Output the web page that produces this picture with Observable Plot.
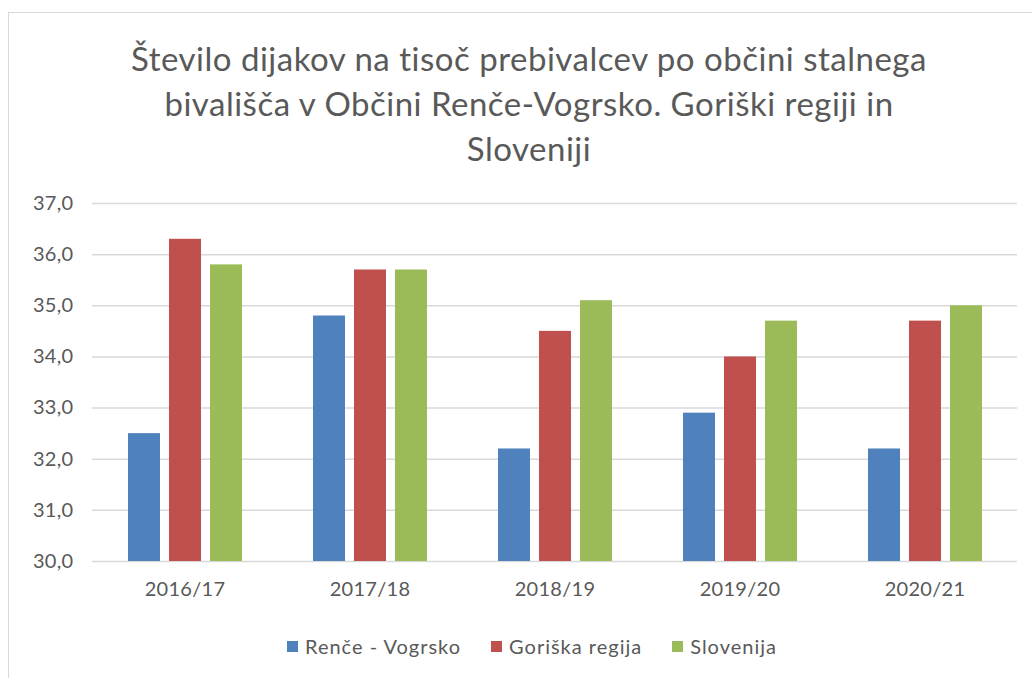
<!DOCTYPE html>
<html>
<head>
<meta charset="utf-8">
<script src="https://cdn.jsdelivr.net/npm/d3@7"></script>
<script src="https://cdn.jsdelivr.net/npm/@observablehq/plot@0.6"></script>
<style>
  html, body { margin: 0; padding: 0; background: #fff; width: 1032px; height: 678px; overflow: hidden; }
  #frame { position: absolute; left: 8px; top: 12px; width: 1100px; height: 700px; border: 1.5px solid #d9d9d9; box-sizing: border-box; }
  #title { position: absolute; left: 0; top: 36px; width: 1058px; text-align: center; font-family: Lato, "Open Sans", sans-serif; font-size: 33px; letter-spacing: 0.5px; line-height: 45px; color: #595959; }
  #chart { position: absolute; left: 0; top: 188px; }
  #legend { position: absolute; left: 0; top: 634px; width: 1064px; display: flex; justify-content: center; gap: 30px; font-family: Lato, "Open Sans", sans-serif; font-size: 20px; letter-spacing: 1px; color: #595959; }
  .item { display: flex; align-items: center; }
  .sw { width: 11px; height: 11px; margin-right: 7px; }
</style>
</head>
<body>
<div id="frame"></div>
<div id="title">Število dijakov na tisoč prebivalcev po občini stalnega<br>bivališča v Občini Renče-Vogrsko. Goriški regiji in<br>Sloveniji</div>
<div id="chart"></div>
<div id="legend"></div>
<script>
const years = ["2016/17", "2017/18", "2018/19", "2019/20", "2020/21"];
const seriesNames = ["Renče - Vogrsko", "Goriška regija", "Slovenija"];
const renceVogrsko = [32.5, 34.8, 32.2, 32.9, 32.2];
const goriskaRegija = [36.3, 35.7, 34.5, 34.0, 34.7];
const slovenija = [35.8, 35.7, 35.1, 34.7, 35.0];
const yTicks = [30, 31, 32, 33, 34, 35, 36, 37];
const colors = ["#4F81BD", "#C0504D", "#9BBB59"];

const seriesValues = [renceVogrsko, goriskaRegija, slovenija];
const data = [];
years.forEach((yr, i) => {
  seriesNames.forEach((s, j) => data.push({year: yr, series: s, value: seriesValues[j][i]}));
});

const fmt = d => d.toFixed(1).replace(".", ",");

const chart = Plot.plot({
  width: 1032,
  height: 430,
  marginTop: 15,
  marginBottom: 57,
  marginLeft: 90,
  marginRight: 14,
  style: {fontFamily: "Lato, 'Open Sans', sans-serif", fontSize: "20px", color: "#595959", background: "transparent", overflow: "visible"},
  fx: {domain: years, padding: 0, axis: "bottom", tickSize: 0, tickPadding: 20, label: null},
  x: {domain: seriesNames, paddingInner: 0.22, paddingOuter: 0.85, axis: null},
  y: {domain: [yTicks[0], yTicks[yTicks.length - 1]], clamp: true, ticks: yTicks, tickFormat: fmt, tickSize: 0, tickPadding: 19, label: null},
  color: {domain: seriesNames, range: colors},
  marks: [
    Plot.ruleY(yTicks, {stroke: "#d9d9d9", strokeWidth: 1.5}),
    Plot.barY(data, {fx: "year", x: "series", y: "value", fill: "series"})
  ]
});
chart.style.letterSpacing = "0.3px";
document.getElementById("chart").appendChild(chart);

const legend = document.getElementById("legend");
seriesNames.forEach((s, j) => {
  const it = document.createElement("div");
  it.className = "item";
  const sw = document.createElement("span");
  sw.className = "sw";
  sw.style.background = colors[j];
  it.appendChild(sw);
  it.appendChild(document.createTextNode(s));
  legend.appendChild(it);
});
</script>
</body>
</html>
